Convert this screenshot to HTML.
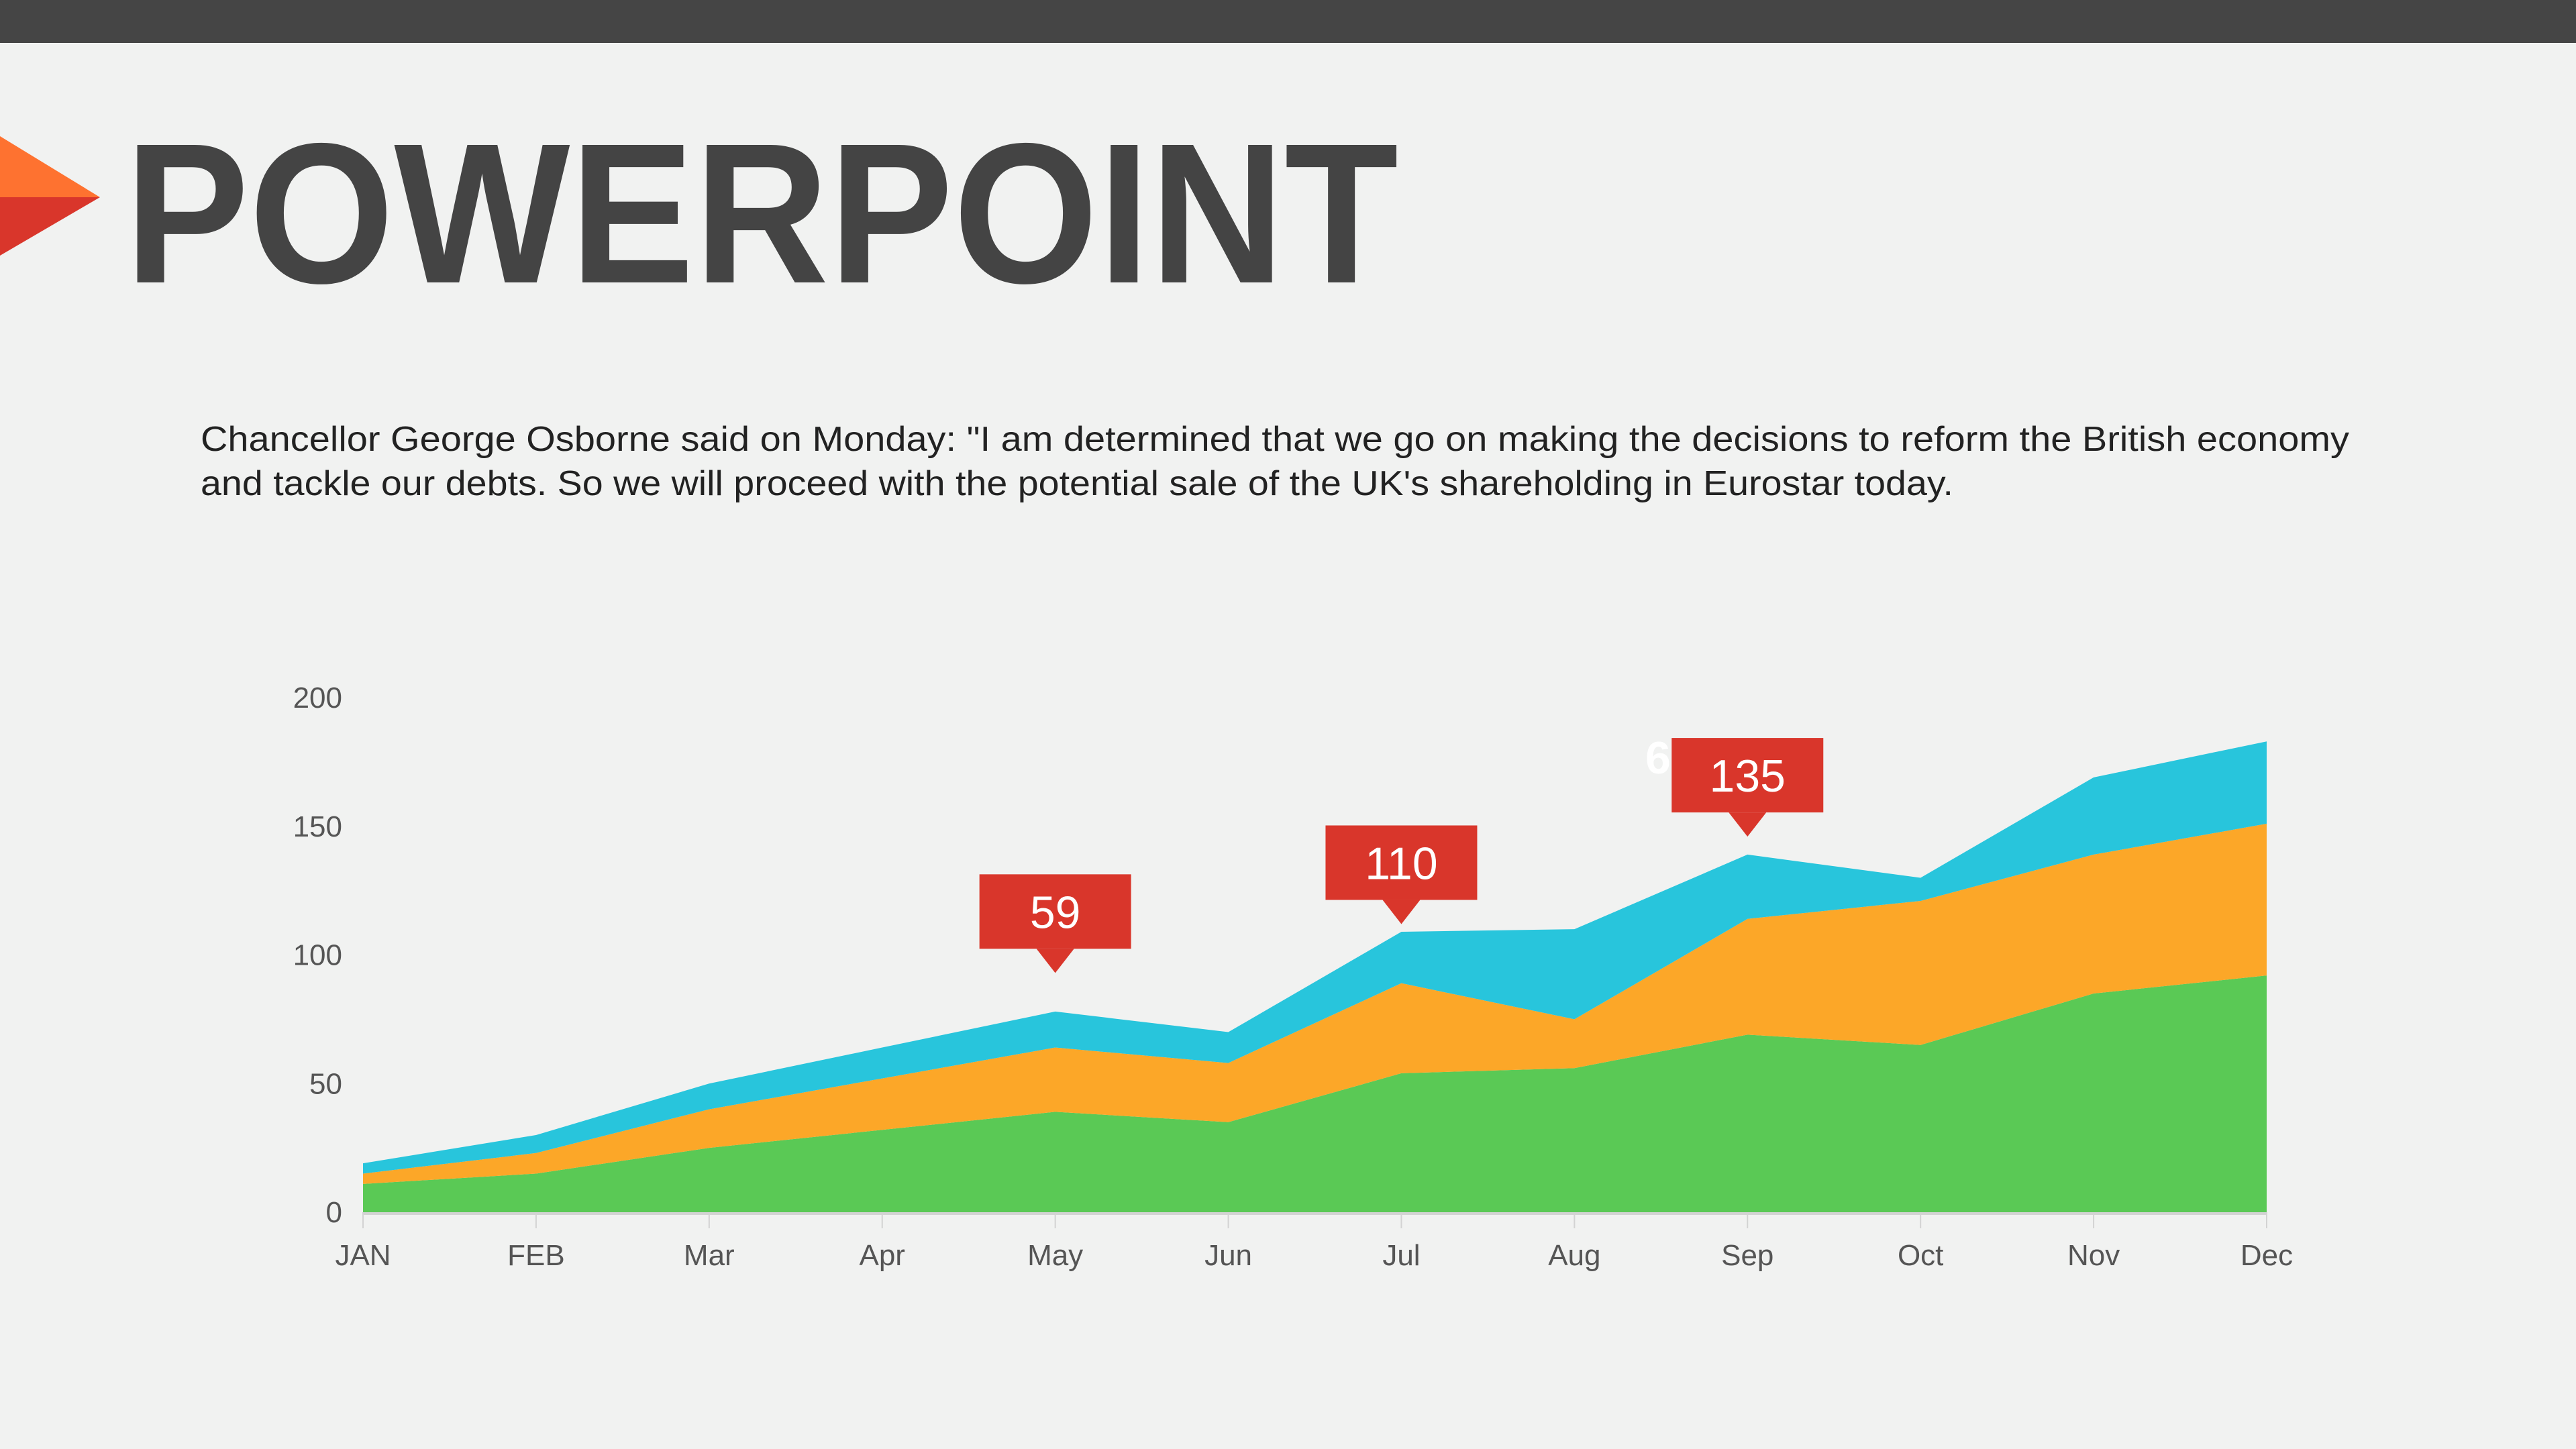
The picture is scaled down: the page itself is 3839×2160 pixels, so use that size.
<!DOCTYPE html>
<html><head><meta charset="utf-8"><style>
html,body{margin:0;padding:0;background:#f1f2f1;}
svg{display:block;}
</style></head><body>
<svg width="3839" height="2160" viewBox="0 0 3839 2160" xmlns="http://www.w3.org/2000/svg">
<rect x="0" y="0" width="3839" height="2160" fill="#f1f2f1"/>
<rect x="0" y="0" width="3839" height="64" fill="#454545"/>
<g>
<polygon points="0,203 149,294 0,294" fill="#fe7230"/>
<polygon points="0,294 149,294 0,381" fill="#d9362b"/>
</g>
<text x="186" y="421" font-family="Liberation Sans, sans-serif" font-weight="bold" font-size="298" fill="#444444" textLength="1898" lengthAdjust="spacingAndGlyphs">POWERPOINT</text>
<g font-family="Liberation Sans, sans-serif" font-size="52" fill="#222222">
<text x="299" y="672" textLength="3202" lengthAdjust="spacingAndGlyphs">Chancellor George Osborne said on Monday: "I am determined that we go on making the decisions to reform the British economy</text>
<text x="299" y="738" textLength="2612" lengthAdjust="spacingAndGlyphs">and tackle our debts. So we will proceed with the potential sale of the UK's shareholding in Eurostar today.</text>
</g>
<g id="chart"></g>
</svg>
<script>
const months = ["JAN","FEB","Mar","Apr","May","Jun","Jul","Aug","Sep","Oct","Nov","Dec"];
const greenSeries = [11,15,25,32,39,35,54,56,69,65,85,92];
const orangeSeries = [4,8,15,20,25,23,35,19,45,56,54,59];
const cyanSeries = [4,7,10,12,14,12,20,35,25,9,30,32];
const yTicks = [0,50,100,150,200];
const calloutMonthIndex = [4,6,8];
const calloutLabels = ["59","110","135"];
const calloutTipValues = [93,112,146];

const NS = "http://www.w3.org/2000/svg";
const chart = document.getElementById("chart");
const x0 = 541, x1 = 3378, y0 = 1807, yMaxPx = 1040, yMax = 200;
const xs = i => x0 + (x1 - x0) * i / (months.length - 1);
const ys = v => y0 - (y0 - yMaxPx) * v / yMax;
function mk(tag, attrs){const e=document.createElementNS(NS,tag);for(const k in attrs)e.setAttribute(k,attrs[k]);return e;}

// stacked areas
const layers = [greenSeries, orangeSeries, cyanSeries];
const colors = ["#5ac955","#fca728","#28c5dc"];
const layerNames = ["area-series-green","area-series-orange","area-series-cyan"];
let base = months.map(()=>0);
layers.forEach((s,li)=>{
  const top = base.map((b,i)=>b+s[i]);
  let d = "";
  top.forEach((v,i)=>{d += (i?"L":"M")+xs(i)+","+ys(v);});
  for(let i=months.length-1;i>=0;i--) d += "L"+xs(i)+","+ys(base[i]);
  d += "Z";
  const p = mk("path",{d:d,fill:colors[li]});
  
  
  chart.appendChild(p);
  base = top;
});

// axis line and ticks
const axis = mk("line",{x1:x0,y1:y0+2,x2:x1,y2:y0+2,stroke:"#d3d3d3","stroke-width":4});


chart.appendChild(axis);
months.forEach((m,i)=>{
  const t = mk("line",{x1:xs(i),y1:y0,x2:xs(i),y2:y0+24,stroke:"#d3d3d3","stroke-width":2});
  
  
  chart.appendChild(t);
  const lab = mk("text",{x:xs(i),y:1886,"text-anchor":"middle","font-family":"Liberation Sans, sans-serif","font-size":44,fill:"#555555"});
  lab.textContent = m;
  
  
  chart.appendChild(lab);
});
yTicks.forEach(v=>{
  const lab = mk("text",{x:510,y:ys(v)+15,"text-anchor":"end","font-family":"Liberation Sans, sans-serif","font-size":44,fill:"#555555"});
  lab.textContent = v;
  
  
  chart.appendChild(lab);
});

// stray white label partially hidden
const ghost = mk("text",{x:2452,y:1153,"font-family":"Liberation Sans, sans-serif","font-weight":"bold","font-size":68,fill:"#ffffff"});
ghost.textContent = "6";


chart.appendChild(ghost);

// callouts
calloutMonthIndex.forEach((mi,k)=>{
  const cx = xs(mi), tipY = ys(calloutTipValues[k]);
  const boxBottom = tipY - 36, boxTop = boxBottom - 111;
  const g = mk("g",{});
  
  
  g.appendChild(mk("rect",{x:cx-113,y:boxTop,width:226,height:111,fill:"#d9362b"}));
  g.appendChild(mk("polygon",{points:(cx-28)+","+boxBottom+" "+(cx+28)+","+boxBottom+" "+cx+","+tipY,fill:"#d9362b"}));
  const t = mk("text",{x:cx,y:boxTop+80,"text-anchor":"middle","font-family":"Liberation Sans, sans-serif","font-size":68,fill:"#ffffff"});
  t.textContent = calloutLabels[k];
  g.appendChild(t);
  chart.appendChild(g);
});
</script>
</body></html>
